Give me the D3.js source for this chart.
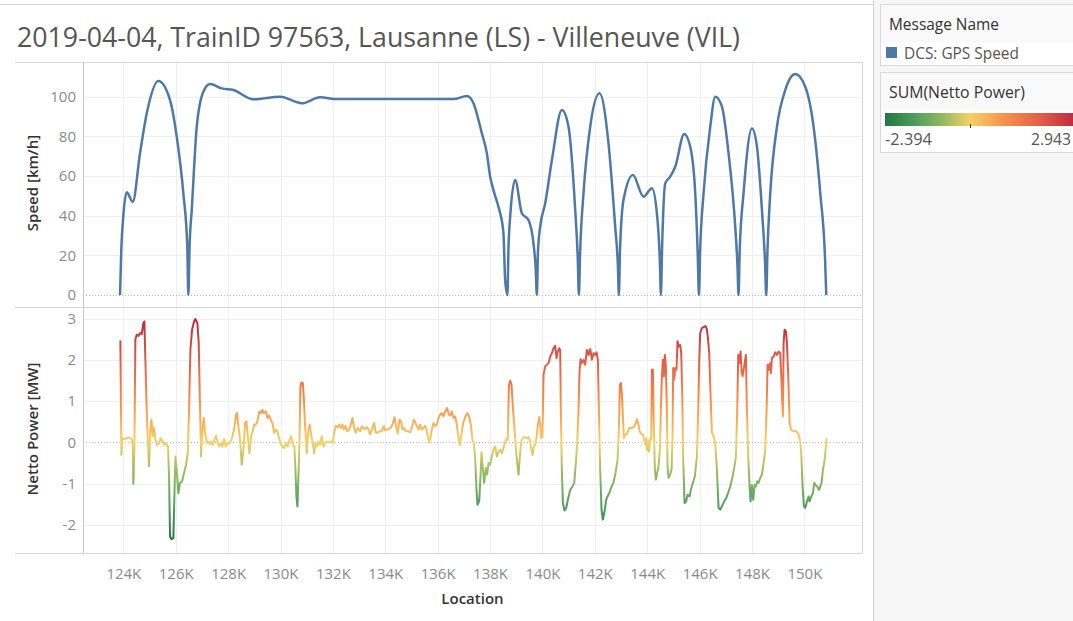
<!DOCTYPE html>
<html>
<head>
<meta charset="utf-8">
<script src="https://cdn.jsdelivr.net/npm/d3@7"></script>
<style>
  body { margin: 0; background: #fff; font-family: "Open Sans", sans-serif; }
  svg { display: block; }
</style>
</head>
<body>
<svg id="chart" width="1073" height="621"></svg>
<script>
// ---- data ----
var titleText = "2019-04-04, TrainID 97563, Lausanne (LS) - Villeneuve (VIL)";
var xTicks = d3.range(124000, 150001, 2000);
var speedTicks = [0, 20, 40, 60, 80, 100];
var powerTicks = [-2, -1, 0, 1, 2, 3];
var powerRange = [-2.394, 2.943];
var legendSeries = ["DCS: GPS Speed"];
var divergingColors = ["#22763f", "#4b9b5f", "#90b960", "#f4d166", "#f88f4d", "#e25f48", "#be2a3e"];

// [location (m), speed (km/h)]
var speedData = [
  [123874, 0], [123920, 22], [124000, 40], [124130, 51.8], [124359, 47], [124638, 71.6],
  [124894, 91.6], [125337, 107.9], [125783, 98.3], [126039, 79.8], [126291, 51.3],
  [126440, 25], [126482, 0], [126530, 25], [126612, 42.9], [126803, 84.9], [127055, 102.5],
  [127311, 106.4], [127758, 104.2], [128201, 103.4], [128965, 98.7], [129984, 100],
  [130813, 96.7], [131512, 99.7], [132150, 98.8], [134311, 98.8], [136603, 98.8],
  [137114, 100.3], [137367, 96.7], [137687, 81.5], [137878, 71.5], [138004, 59.7],
  [138130, 52.9], [138321, 44.5], [138386, 41.2], [138512, 31.1], [138577, 7.6], [138665, 0],
  [138700, 22], [138768, 39.5], [138959, 58], [139215, 41.2], [139467, 37.8], [139658, 26],
  [139740, 14], [139788, 0], [139830, 22], [139914, 34.4], [140105, 46.2], [140361, 68],
  [140743, 93.3], [140995, 84.9], [141251, 42.9], [141350, 18], [141392, 0], [141440, 22],
  [141568, 51.3], [141824, 84.9], [142179, 101.7], [142522, 76.5], [142778, 34.4],
  [142880, 15], [142919, 0], [142960, 22], [143095, 47.9], [143454, 60.5], [143859, 49.6],
  [144180, 53.8], [144370, 41.2], [144480, 18], [144523, 0], [144570, 25], [144688, 56.3],
  [144879, 59.7], [145070, 64.7], [145413, 81.2], [145643, 74.8], [145834, 51.3],
  [145930, 20], [145975, 0], [146020, 22], [146151, 51.3], [146407, 84.9], [146598, 100],
  [146853, 95], [147105, 71.5], [147361, 34.4], [147445, 15], [147487, 0], [147530, 22],
  [147678, 51.3], [147999, 84], [148190, 74.8], [148380, 42.9], [148500, 16], [148545, 0],
  [148590, 22], [148698, 51.3], [148954, 84.9], [149271, 103.4], [149653, 111.4],
  [150034, 105], [150351, 84.9], [150607, 51.3], [150790, 18], [150836, 0]
];

// [location (m), netto power (MW)]
var powerData = [
  [123887, 2.47], [123925, -0.3], [123963, 0.1], [124065, 0.08], [124192, 0.12], [124319, 0.08],
  [124358, -0.02], [124383, -1.0], [124421, -0.18], [124459, 2.49], [124510, 2.61], [124574, 2.58],
  [124638, 2.65], [124701, 2.62], [124765, 2.89], [124803, 2.93], [124841, 2.0], [124892, 0.79],
  [124930, 0.15], [124981, -0.58], [125032, 0.31], [125071, 0.55], [125121, 0.15], [125172, 0.35],
  [125223, 0.06], [125287, -0.06], [125363, -0.02], [125427, 0.1], [125491, 0.04], [125554, -0.06],
  [125631, -0.02], [125707, -0.11], [125745, -0.82], [125783, -2.28], [125834, -2.34], [125911, -2.32],
  [125949, -1.31], [125987, -0.34], [126038, -0.66], [126102, -1.23], [126165, -0.98], [126242, -0.94],
  [126318, -0.74], [126394, -0.54], [126458, -0.26], [126509, 0.79], [126560, 2.24], [126624, 2.73],
  [126700, 2.93], [126751, 2.99], [126827, 2.89], [126878, 2.41], [126929, 0.79], [126967, -0.34],
  [127018, 0.31], [127069, 0.59], [127120, 0.23], [127184, -0.02], [127235, 0.02], [127298, -0.04],
  [127349, 0.02], [127413, -0.06], [127476, 0.06], [127540, 0.16], [127591, 0.02], [127655, -0.1],
  [127718, -0.02], [127782, -0.1], [127846, 0.08], [127909, -0.1], [127973, -0.02], [128049, -0.03],
  [128126, 0.06], [128228, 0.31], [128304, 0.67], [128342, 0.71], [128393, 0.39], [128457, 0.06],
  [128520, -0.54], [128584, -0.18], [128648, 0.47], [128699, 0.51], [128749, 0.15], [128813, -0.26],
  [128877, 0.15], [128940, 0.27], [128991, 0.43], [129055, 0.43], [129119, 0.51], [129195, 0.75],
  [129259, 0.71], [129310, 0.79], [129361, 0.71], [129437, 0.75], [129501, 0.59], [129564, 0.65],
  [129628, 0.55], [129692, 0.47], [129755, 0.23], [129819, 0.31], [129882, 0.27], [129946, 0.1],
  [130010, -0.03], [130073, -0.1], [130137, -0.14], [130201, -0.02], [130277, -0.1], [130341, 0.06],
  [130405, 0.15], [130468, -0.06], [130532, -0.1], [130570, -0.66], [130608, -1.31], [130646, -1.55],
  [130697, -0.58], [130723, -0.02], [130761, 1.36], [130799, 1.45], [130850, 1.44], [130888, 1.11],
  [130939, 0.39], [131003, -0.26], [131066, 0.31], [131117, 0.43], [131181, 0.15], [131244, -0.06],
  [131283, -0.26], [131334, -0.02], [131385, -0.1], [131448, 0.02], [131512, -0.06], [131576, 0.15],
  [131639, -0.1], [131690, -0.02], [131767, 0.02], [131843, 0], [131932, 0.02], [131996, -0.02],
  [132047, 0.23], [132110, 0.4], [132174, 0.37], [132250, 0.43], [132301, 0.35], [132365, 0.43],
  [132416, 0.31], [132479, 0.4], [132543, 0.27], [132620, 0.31], [132683, 0.43], [132747, 0.59],
  [132810, 0.35], [132874, 0.23], [132951, 0.35], [133040, 0.27], [133104, 0.39], [133167, 0.35],
  [133231, 0.32], [133295, 0.37], [133358, 0.32], [133422, 0.19], [133486, 0.31], [133575, 0.47],
  [133638, 0.24], [133715, 0.23], [133778, 0.27], [133867, 0.27], [133944, 0.39], [133995, 0.29],
  [134058, 0.31], [134122, 0.32], [134198, 0.35], [134275, 0.43], [134351, 0.61], [134402, 0.43],
  [134478, 0.21], [134542, 0.55], [134606, 0.51], [134657, 0.31], [134720, 0.35], [134784, 0.27],
  [134860, 0.27], [134949, 0.24], [135013, 0.35], [135089, 0.55], [135153, 0.47], [135204, 0.4],
  [135268, 0.31], [135331, 0.43], [135395, 0.31], [135459, 0.35], [135522, 0.4], [135573, 0.31],
  [135624, 0.15], [135675, 0], [135726, 0.1], [135777, 0.31], [135841, 0.47], [135904, 0.39],
  [135968, 0.43], [136032, 0.59], [136095, 0.67], [136159, 0.71], [136222, 0.63], [136286, 0.75],
  [136362, 0.83], [136426, 0.67], [136477, 0.65], [136541, 0.75], [136604, 0.59], [136668, 0.63],
  [136732, 0.43], [136795, 0.1], [136846, -0.06], [136897, 0.15], [136974, 0.47], [137050, 0.61],
  [137126, 0.71], [137190, 0.65], [137266, 0.43], [137330, 0.06], [137381, -0.02], [137432, -0.38],
  [137483, -1.15], [137521, -1.51], [137585, -1.43], [137636, -0.82], [137674, -0.24], [137712, -0.54],
  [137776, -0.98], [137839, -0.62], [137890, -0.78], [137941, -0.5], [138005, -0.54], [138068, -0.34],
  [138145, -0.14], [138196, -0.1], [138259, -0.34], [138323, -0.22], [138387, -0.18], [138450, -0.26],
  [138514, -0.14], [138578, 0.02], [138641, 0.1], [138679, 0.06], [138718, 1.36], [138768, 1.5],
  [138819, 1.4], [138870, 0.87], [138921, 0.43], [138972, -0.02], [139023, -0.42], [139087, -0.78],
  [139138, -0.34], [139189, 0.02], [139239, 0.1], [139316, 0.13], [139405, 0.1], [139469, 0.13],
  [139520, 0.05], [139570, -0.14], [139621, -0.3], [139672, -0.1], [139723, -0.06], [139774, 0.1],
  [139825, 0.43], [139876, 0.61], [139914, 0.43], [139952, 0.1], [140003, 0.15], [140041, 1.64],
  [140105, 1.84], [140169, 1.88], [140232, 1.92], [140296, 2.08], [140360, 2.16], [140423, 2.28],
  [140487, 2.34], [140538, 2.04], [140576, 2.18], [140640, 2.28], [140678, 2.24], [140703, 0.79],
  [140741, -0.66], [140780, -1.47], [140843, -1.65], [140907, -1.59], [140971, -1.39], [141060, -1.15],
  [141149, -1.07], [141213, -0.98], [141276, -0.5], [141327, -0.02], [141378, 0.79], [141416, 1.72],
  [141455, 2.02], [141505, 1.92], [141569, 2.0], [141633, 1.88], [141697, 2.24], [141760, 2.12],
  [141824, 2.26], [141887, 2.0], [141951, 2.16], [142015, 2.12], [142066, 2.18], [142116, 2.0],
  [142155, 0.79], [142205, -0.66], [142256, -1.63], [142307, -1.87], [142383, -1.63], [142434, -1.39],
  [142485, -1.31], [142561, -1.21], [142638, -1.07], [142714, -0.97], [142791, -0.74], [142867, -0.42],
  [142918, 0.31], [142956, 1.4], [142994, 1.44], [143032, 1.19], [143071, 0.63], [143109, 0.1],
  [143172, 0.19], [143223, 0.19], [143287, 0.31], [143325, 0.35], [143414, 0.35], [143478, 0.37],
  [143542, 0.43], [143605, 0.56], [143656, 0.47], [143707, 0.27], [143784, 0.19], [143834, 0.19],
  [143885, 0.06], [143924, -0.06], [143962, 0.1], [143987, -0.18], [144025, 0.02], [144064, -0.22],
  [144115, 0.1], [144153, 0.06], [144178, 1.76], [144216, 1.76], [144255, 0.31], [144293, -0.66],
  [144331, -0.9], [144369, -0.78], [144433, -0.58], [144484, -0.18], [144522, 0.79], [144560, 1.6],
  [144598, 2.0], [144636, 1.6], [144675, 2.12], [144713, 1.84], [144751, 0.79], [144776, -0.58],
  [144815, -0.86], [144878, -0.78], [144929, -0.66], [144967, 0.15], [144993, 1.8], [145031, 1.52],
  [145069, 1.8], [145120, 1.76], [145158, 2.45], [145209, 2.32], [145260, 2.36], [145298, 2.16],
  [145337, 1.19], [145375, -0.42], [145426, -1.47], [145489, -1.43], [145540, -1.27], [145616, -1.31],
  [145668, -1.15], [145744, -0.98], [145820, -0.82], [145897, -0.34], [145948, 0.79], [145986, 2.0],
  [146024, 2.65], [146088, 2.77], [146151, 2.79], [146228, 2.82], [146279, 2.73], [146317, 2.53],
  [146368, 2.16], [146406, 1.36], [146470, 0.23], [146533, 0.15], [146597, -0.02], [146661, -0.66],
  [146724, -1.59], [146788, -1.63], [146851, -1.55], [146941, -1.43], [147017, -1.35], [147106, -1.19],
  [147170, -1.07], [147246, -0.86], [147323, -0.62], [147386, -0.34], [147437, 0.79], [147475, 2.12],
  [147526, 1.92], [147564, 2.2], [147603, 1.72], [147641, 1.6], [147692, 1.8], [147730, 1.96],
  [147768, 2.12], [147806, 0.79], [147857, -0.34], [147908, -1.07], [147946, -1.43], [147997, -1.03],
  [148048, -1.39], [148099, -1.03], [148150, -1.07], [148201, -0.94], [148252, -0.98], [148315, -0.86],
  [148379, -0.78], [148443, -0.5], [148506, -0.18], [148557, 0.79], [148596, 1.88], [148646, 1.76],
  [148685, 1.92], [148723, 1.68], [148761, 2.04], [148825, 2.08], [148888, 2.18], [148952, 2.12],
  [149016, 2.2], [149079, 2.16], [149117, 1.6], [149156, 0.95], [149181, 0.63], [149207, 2.41],
  [149245, 2.73], [149296, 2.69], [149334, 2.41], [149385, 1.6], [149436, 0.47], [149487, 0.31],
  [149588, 0.27], [149690, 0.27], [149779, 0.19], [149843, 0.02], [149881, -0.26], [149932, -1.07],
  [149983, -1.55], [150034, -1.59], [150098, -1.43], [150161, -1.31], [150199, -1.43], [150263, -1.31],
  [150327, -1.23], [150378, -0.98], [150428, -1.03], [150492, -1.07], [150556, -1.15], [150607, -1.07],
  [150657, -0.98], [150708, -0.66], [150759, -0.5], [150810, -0.18], [150849, 0.1]
];

// ---- layout ----
var svg = d3.select("#chart");
var W = 1073, H = 621;
var paneL = 83, paneR = 862, rowL = 15;
var topPane = [62, 307], botPane = [307, 553];
var lineCol = "#d4d4d4", gridCol = "#efefef";

function fit(sel, target) {
  var len = sel.node().getComputedTextLength();
  var fs = parseFloat(sel.attr("font-size"));
  sel.attr("font-size", (fs * target / len).toFixed(2));
  return sel;
}

var x = d3.scaleLinear().domain([122460, 152200]).range([paneL, paneR]);
var ySpeed = d3.scaleLinear().domain([-6.05, 117.5]).range([topPane[1], topPane[0]]);
var yPower = d3.scaleLinear().domain([-2.68, 3.28]).range([botPane[1], botPane[0]]);

var powerDomain = [powerRange[0], powerRange[0] * 2 / 3, powerRange[0] / 3, 0,
                   powerRange[1] / 3, powerRange[1] * 2 / 3, powerRange[1]];
var powerColor = d3.scaleLinear().domain(powerDomain).range(divergingColors);

// right side panel
svg.append("rect").attr("x", 873).attr("y", 0).attr("width", W - 873).attr("height", H).attr("fill", "#f6f6f6");
svg.append("line").attr("x1", 873.5).attr("x2", 873.5).attr("y1", 0).attr("y2", H).attr("stroke", "#d0d0d0");
svg.append("line").attr("x1", 0).attr("x2", 873).attr("y1", 4.5).attr("y2", 4.5).attr("stroke", lineCol);

// title
var title = svg.append("text").attr("x", 17).attr("y", 47).attr("font-size", 24)
  .attr("fill", "#555").text(titleText);
fit(title, 723);

// gridlines
function grid(g, yScale, ticks, pane) {
  g.selectAll(".vg").data(xTicks).enter().append("line")
    .attr("x1", function(d){ return Math.round(x(d)) + 0.5; })
    .attr("x2", function(d){ return Math.round(x(d)) + 0.5; })
    .attr("y1", pane[0]).attr("y2", pane[1]).attr("stroke", gridCol);
  g.selectAll(".hg").data(ticks.filter(function(d){ return d !== 0; })).enter().append("line")
    .attr("x1", paneL).attr("x2", paneR)
    .attr("y1", function(d){ return Math.round(yScale(d)) + 0.5; })
    .attr("y2", function(d){ return Math.round(yScale(d)) + 0.5; })
    .attr("stroke", gridCol);
  g.append("line").attr("x1", paneL).attr("x2", paneR)
    .attr("y1", Math.round(yScale(0)) + 0.5).attr("y2", Math.round(yScale(0)) + 0.5)
    .attr("stroke", "#b8b8b8").attr("stroke-dasharray", "1,2");
}
grid(svg.append("g"), ySpeed, speedTicks, topPane);
grid(svg.append("g"), yPower, powerTicks, botPane);

// pane borders
[topPane[0], topPane[1], botPane[1]].forEach(function(yy) {
  svg.append("line").attr("x1", rowL).attr("x2", paneR).attr("y1", yy + 0.5).attr("y2", yy + 0.5).attr("stroke", lineCol);
});
svg.append("line").attr("x1", paneL + 0.5).attr("x2", paneL + 0.5).attr("y1", topPane[0]).attr("y2", botPane[1]).attr("stroke", "#c8c8c8");
svg.append("line").attr("x1", paneR + 0.5).attr("x2", paneR + 0.5).attr("y1", topPane[0]).attr("y2", botPane[1]).attr("stroke", lineCol);

// axes
function plain(d) { return String(d); }
function styleAxis(g) {
  g.select(".domain").remove();
  g.selectAll("text").attr("fill", "#8a8a8a").attr("font-size", 15).attr("font-family", "Open Sans");
}
svg.append("g").attr("transform", "translate(" + (paneL - 4) + ",0)")
  .call(d3.axisLeft(ySpeed).tickValues(speedTicks).tickSize(0).tickFormat(plain)).call(styleAxis);
svg.append("g").attr("transform", "translate(" + (paneL - 4) + ",0)")
  .call(d3.axisLeft(yPower).tickValues(powerTicks).tickSize(0).tickFormat(plain)).call(styleAxis);
svg.append("g").attr("transform", "translate(0," + (botPane[1] + 12) + ")")
  .call(d3.axisBottom(x).tickValues(xTicks).tickSize(0).tickFormat(function(d){ return d / 1000 + "K"; }))
  .call(styleAxis);

// axis titles
svg.append("text").attr("transform", "translate(38,183) rotate(-90)").attr("text-anchor", "middle")
  .attr("font-size", 15).attr("font-weight", 600).attr("fill", "#333").text("Speed [km/h]");
svg.append("text").attr("transform", "translate(38,429) rotate(-90)").attr("text-anchor", "middle")
  .attr("font-size", 15).attr("font-weight", 600).attr("fill", "#333").text("Netto Power [MW]");
svg.append("text").attr("x", (paneL + paneR) / 2).attr("y", 604).attr("text-anchor", "middle")
  .attr("font-size", 15).attr("font-weight", 600).attr("fill", "#333").text("Location");

// speed line
var speedLine = d3.line().x(function(d){ return x(d[0]); }).y(function(d){ return ySpeed(d[1]); })
  .curve(d3.curveMonotoneX);
svg.append("path").datum(speedData).attr("d", speedLine).attr("fill", "none")
  .attr("stroke", "#4e79a7").attr("stroke-width", 2.5).attr("stroke-linejoin", "round");

// power line coloured by value
var defs = svg.append("defs");
var pg = defs.append("linearGradient").attr("id", "pwrGrad").attr("gradientUnits", "userSpaceOnUse")
  .attr("x1", 0).attr("x2", 0).attr("y1", yPower(powerRange[0])).attr("y2", yPower(powerRange[1]));
powerDomain.forEach(function(v) {
  pg.append("stop").attr("offset", (v - powerRange[0]) / (powerRange[1] - powerRange[0]))
    .attr("stop-color", powerColor(v));
});
var powerLine = d3.line().x(function(d){ return x(d[0]); }).y(function(d){ return yPower(d[1]); });
svg.append("path").datum(powerData).attr("d", powerLine).attr("fill", "none")
  .attr("stroke", "url(#pwrGrad)").attr("stroke-width", 2).attr("stroke-linejoin", "round");

// ---- legends ----
var lg1 = svg.append("g");
lg1.append("rect").attr("x", 880.5).attr("y", 4.5).attr("width", 200).attr("height", 61)
  .attr("fill", "#f9f9f9").attr("stroke", "#d9d9d9");
lg1.append("rect").attr("x", 881).attr("y", 42).attr("width", 199).attr("height", 23).attr("fill", "#fff");
fit(lg1.append("text").attr("x", 889).attr("y", 30).attr("font-size", 15).attr("fill", "#333").text("Message Name"), 110);
lg1.selectAll(".item").data(legendSeries).enter().append("g").each(function(d) {
  var g = d3.select(this);
  g.append("rect").attr("x", 886).attr("y", 47).attr("width", 11).attr("height", 11).attr("fill", "#4e79a7");
  fit(g.append("text").attr("x", 904).attr("y", 59).attr("font-size", 15).attr("fill", "#555").text(d), 115);
});

var lg2 = svg.append("g");
lg2.append("rect").attr("x", 880.5).attr("y", 72.5).attr("width", 200).attr("height", 80)
  .attr("fill", "#f9f9f9").attr("stroke", "#d9d9d9");
lg2.append("rect").attr("x", 881).attr("y", 110).attr("width", 199).attr("height", 42).attr("fill", "#fff");
fit(lg2.append("text").attr("x", 889).attr("y", 98).attr("font-size", 15).attr("fill", "#333").text("SUM(Netto Power)"), 136);
var lgX = d3.scaleLinear().domain(powerRange).range([885, 1075]);
var lgGrad = defs.append("linearGradient").attr("id", "lgGrad");
powerDomain.forEach(function(v) {
  lgGrad.append("stop").attr("offset", (v - powerRange[0]) / (powerRange[1] - powerRange[0]))
    .attr("stop-color", powerColor(v));
});
lg2.append("rect").attr("x", lgX.range()[0]).attr("y", 113).attr("width", lgX.range()[1] - lgX.range()[0])
  .attr("height", 13).attr("fill", "url(#lgGrad)");
lg2.append("line").attr("x1", Math.round(lgX(0)) + 0.5).attr("x2", Math.round(lgX(0)) + 0.5)
  .attr("y1", 124).attr("y2", 128).attr("stroke", "#333");
fit(lg2.append("text").attr("x", 885).attr("y", 145).attr("font-size", 15).attr("fill", "#555")
  .text(powerRange[0].toFixed(3)), 47);
fit(lg2.append("text").attr("x", 1071).attr("y", 145).attr("text-anchor", "end").attr("font-size", 15).attr("fill", "#555")
  .text(powerRange[1].toFixed(3)), 40);
</script>
</body>
</html>
